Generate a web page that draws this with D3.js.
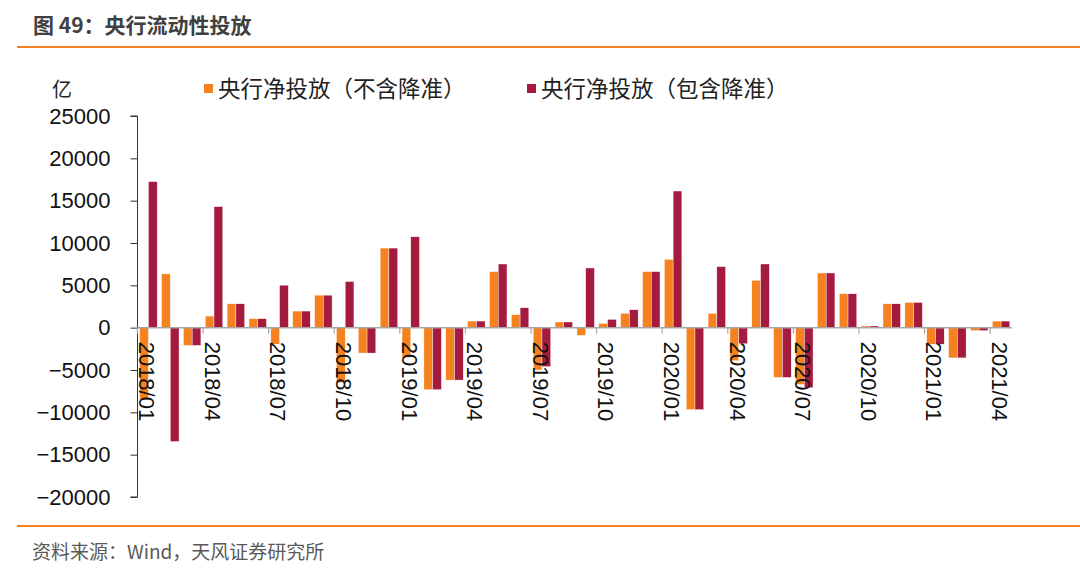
<!DOCTYPE html>
<html><head><meta charset="utf-8">
<script src="https://cdn.jsdelivr.net/npm/d3@7"></script>
<style>
html,body{margin:0;padding:0;background:#fff;}
svg{display:block;}
</style></head>
<body>
<svg id="c" width="1080" height="575"></svg>
<script>
const months = [
 "2018/01","2018/02","2018/03","2018/04","2018/05","2018/06","2018/07","2018/08","2018/09","2018/10","2018/11","2018/12",
 "2019/01","2019/02","2019/03","2019/04","2019/05","2019/06","2019/07","2019/08","2019/09","2019/10","2019/11","2019/12",
 "2020/01","2020/02","2020/03","2020/04","2020/05","2020/06","2020/07","2020/08","2020/09","2020/10","2020/11","2020/12",
 "2021/01","2021/02","2021/03","2021/04"];
const seriesNames = ["央行净投放（不含降准）","央行净投放（包含降准）"];
const exclRRR = [
 -8500, 6350, -2100, 1370, 2820, 1060, -1960, 1960, 3840, -6500, -3000, 9400,
 -3500, -7330, -6190, 780, 6620, 1530, -5000, 670, -900, 510, 1690, 6620,
 8070, -9680, 1690, -3900, 5600, -5880, -6700, 6460, 4000, 200, 2820, 2980,
 -1960, -3570, -350, 780];
const inclRRR = [
 17250, -13450, -2100, 14300, 2820, 1060, 5020, 1960, 3840, 5450, -3000, 9400,
 10740, -7330, -6190, 780, 7520, 2350, -4600, 670, 7050, 980, 2120, 6620,
 16140, -9680, 7210, -1900, 7520, -5880, -7100, 6460, 4000, 200, 2820, 2980,
 -1960, -3570, -350, 780];
const yTicks = [25000,20000,15000,10000,5000,0,-5000,-10000,-15000,-20000];
const colors = ["#F5821F","#A51B3F"];

const svg = d3.select("#c");
const font = "'Liberation Sans', Arial, sans-serif";
const cjk = "'Noto Sans CJK SC', 'Noto Sans', sans-serif";

// title & rules
svg.append("text").attr("x",33).attr("y",33).attr("font-family",cjk).attr("font-weight","bold")
  .attr("font-size",21).attr("fill","#404040").text("图 49：央行流动性投放");
svg.append("line").attr("x1",17).attr("x2",1080).attr("y1",47).attr("y2",47).attr("stroke","#F58220").attr("stroke-width",2);
svg.append("line").attr("x1",17).attr("x2",1080).attr("y1",526).attr("y2",526).attr("stroke","#F58220").attr("stroke-width",2);
svg.append("text").attr("x",32).attr("y",559).attr("font-family",cjk).attr("font-size",19)
  .attr("fill","#595959").text("资料来源：Wind，天风证券研究所");

// unit
svg.append("text").attr("x",52).attr("y",97).attr("font-family",cjk).attr("font-size",20)
  .attr("fill","#222").text("亿");

// legend
const leg = [{x:204,tx:218},{x:527,tx:541}];
seriesNames.forEach((n,i)=>{
  svg.append("rect").attr("x",leg[i].x).attr("y",84).attr("width",9).attr("height",9).attr("fill",colors[i]);
  svg.append("text").attr("x",leg[i].tx).attr("y",97).attr("font-family",cjk).attr("font-size",22.5)
    .attr("fill","#222").text(n);
});

// scales
const pLeft=137.5, pRight=1012, pTop=116, pBottom=497;
const y = d3.scaleLinear().domain([-20000,25000]).range([pBottom,pTop]);
const x0 = d3.scaleBand().domain(months).range([pLeft,pRight]).paddingInner(0.2).paddingOuter(0.1);
const x1 = d3.scaleBand().domain([0,1]).range([0,x0.bandwidth()]);
const step = x0.step();

// bars
const g = svg.append("g");
months.forEach((m,i)=>{
  [exclRRR[i],inclRRR[i]].forEach((v,k)=>{
    g.append("rect")
      .attr("x",x0(m)+x1(k)).attr("width",x1.bandwidth())
      .attr("y",Math.min(y(v),y(0))).attr("height",Math.abs(y(v)-y(0)))
      .attr("fill",colors[k]).attr("stroke","#fff").attr("stroke-width",0.4);
  });
});

// y axis
const ya = svg.append("g").attr("transform",`translate(${pLeft},0)`)
  .call(d3.axisLeft(y).tickValues(yTicks).tickSize(7).tickPadding(20).tickFormat(d3.format("d")));
ya.select(".domain").attr("stroke","#333").attr("d",`M-7,${pTop}H0V${pBottom}H-7`);
ya.selectAll(".tick line").attr("stroke","#333");
ya.selectAll("text").attr("font-family",font).attr("font-size",22).attr("fill","#111");

// x axis at zero
const xa = svg.append("g").attr("transform",`translate(0,${y(0)})`);
xa.append("line").attr("x1",pLeft).attr("x2",pRight).attr("y1",0).attr("y2",0).attr("stroke","#a6a6a6").attr("stroke-width",1.5);
const labeled = months.filter((m,i)=>i%3===0);
labeled.forEach(m=>{
  const bx = x0(m) - step*0.1;
  xa.append("line").attr("x1",bx).attr("x2",bx).attr("y1",0).attr("y2",6).attr("stroke","#a6a6a6").attr("stroke-width",1.2);
});
xa.selectAll("text.xl").data(labeled).join("text").attr("class","xl")
  .attr("transform",d=>`translate(${x0(d)+x0.bandwidth()/2 - 1.5},14) rotate(90)`)
  .attr("dy","0.35em").attr("text-anchor","start")
  .attr("font-family",font).attr("font-size",22).attr("fill","#111").text(d=>d);
</script>
</body></html>
